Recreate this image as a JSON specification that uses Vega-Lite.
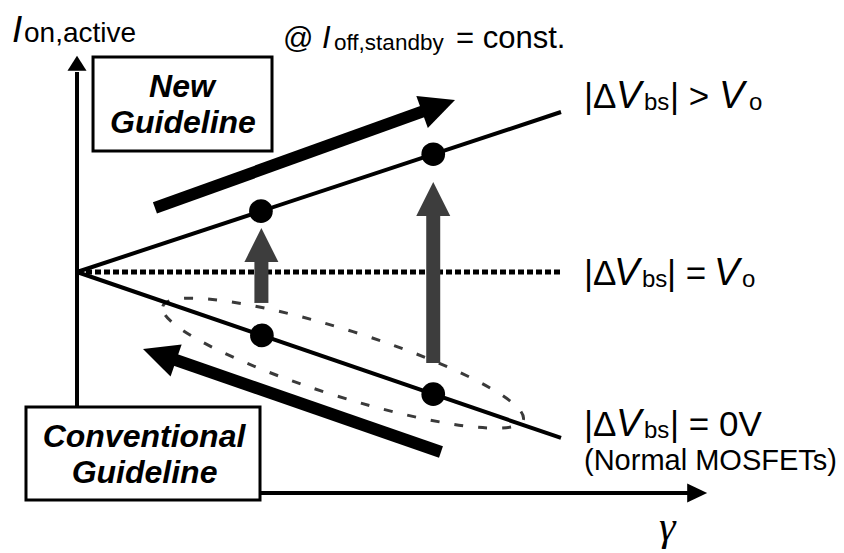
{
  "$schema": "https://vega.github.io/schema/vega-lite/v6.json",
  "width": 844,
  "height": 553,
  "autosize": {"type": "fit", "contains": "padding"},
  "padding": 0,
  "background": "white",
  "config": {"view": {"stroke": null}},
  "datasets": {
    "ellipse": [{"x": 5.496, "y": 5.873}],
    "dotted": [{"x": 0, "y": 10, "x2": 10, "y2": 10}],
    "mainlines": [
      {"name": "dVbs > Vo", "x": 0, "y": 10, "x2": 10, "y2": 17.24},
      {"name": "dVbs = 0V", "x": 0, "y": 10, "x2": 10, "y2": 2.49}
    ],
    "grayshafts": [
      {"x": 3.81, "y": 8.6, "x2": 3.81, "y2": 10.6},
      {"x": 7.36, "y": 5.88, "x2": 7.36, "y2": 12.7}
    ],
    "grayheads": [{"x": 3.81, "y": 11.99}, {"x": 7.36, "y": 14.07}],
    "dots": [
      {"x": 3.8, "y": 12.751},
      {"x": 7.36, "y": 15.329},
      {"x": 3.82, "y": 7.131},
      {"x": 7.36, "y": 4.473}
    ],
    "thickshafts": [
      {"name": "new", "x": 1.61, "y": 12.9, "x2": 7.29, "y2": 17.38},
      {"name": "conventional", "x": 7.52, "y": 1.855, "x2": 1.92, "y2": 6.11}
    ],
    "headNew": [{"x": 7.81, "y": 17.78}],
    "headConv": [{"x": 1.364, "y": 6.516}],
    "axes": [
      {"x": 0, "y": 0, "x2": 0, "y2": 19.05},
      {"x": 0, "y": 0, "x2": 12.665, "y2": 0}
    ],
    "headY": [{"x": 0, "y": 19.78}],
    "headX": [{"x": 13.02, "y": 0}],
    "boxes": [
      {"x": 0.331, "x2": 4.029, "y": 19.73, "y2": 15.48},
      {"x": -1.054, "x2": 3.781, "y": 3.891, "y2": -0.317}
    ],
    "boxtext": [
      {"x": 2.169, "y": 17.92, "t": "New"},
      {"x": 2.19, "y": 16.29, "t": "Guideline"},
      {"x": 1.384, "y": 2.081, "t": "Conventional"},
      {"x": 1.395, "y": 0.452, "t": "Guideline"}
    ],
    "labelMain": [
      {"x": 10.475, "y": 17.42, "t": "|Δ"},
      {"x": 12.252, "y": 17.42, "t": "| >"},
      {"x": 10.475, "y": 9.41, "t": "|Δ"},
      {"x": 12.19, "y": 9.41, "t": "| ="},
      {"x": 10.475, "y": 2.579, "t": "|Δ"},
      {"x": 12.252, "y": 2.579, "t": "| = 0V"}
    ],
    "labelItalic": [
      {"x": 11.136, "y": 17.42, "t": "V"},
      {"x": 13.264, "y": 17.42, "t": "V"},
      {"x": 11.095, "y": 9.41, "t": "V"},
      {"x": 13.161, "y": 9.41, "t": "V"},
      {"x": 11.136, "y": 2.579, "t": "V"}
    ],
    "labelSub": [
      {"x": 11.715, "y": 17.33, "t": "bs"},
      {"x": 13.884, "y": 17.33, "t": "o"},
      {"x": 11.674, "y": 9.32, "t": "bs"},
      {"x": 13.74, "y": 9.32, "t": "o"},
      {"x": 11.715, "y": 2.489, "t": "bs"}
    ],
    "normal": [{"x": 10.475, "y": 1.041, "t": "(Normal MOSFETs)"}],
    "yI": [{"x": -1.343, "y": 20.41, "t": "I"}],
    "ySub": [{"x": -1.095, "y": 20.41, "t": "on,active"}],
    "topAt": [{"x": 4.256, "y": 20.14, "t": "@"}],
    "topMain": [{"x": 7.831, "y": 20.14, "t": "= const."}],
    "topI": [{"x": 5.062, "y": 20.14, "t": "I"}],
    "topSub": [{"x": 5.31, "y": 20.05, "t": "off,standby"}],
    "gamma": [{"x": 12.025, "y": -2.127, "t": "γ"}]
  },
  "encoding": {
    "x": {"field": "x", "type": "quantitative", "scale": {"domain": [-1.591, 15.847], "nice": false, "zero": false}, "axis": null},
    "y": {"field": "y", "type": "quantitative", "scale": {"domain": [-2.715, 22.308], "nice": false, "zero": false}, "axis": null}
  },
  "layer": [
    {
      "data": {"name": "ellipse"},
      "mark": {"type": "point", "shape": "M-1,0A1,0.175,0,1,1,1,0A1,0.175,0,1,1,-1,0Z", "size": 142884, "angle": 17.5, "filled": false, "stroke": "#3a3a3a", "strokeWidth": 3, "strokeDash": [9, 15], "opacity": 1}
    },
    {
      "data": {"name": "dotted"},
      "mark": {"type": "rule", "color": "black", "strokeWidth": 5, "strokeDash": [6, 3]},
      "encoding": {"x2": {"field": "x2"}, "y2": {"field": "y2"}}
    },
    {
      "data": {"name": "mainlines"},
      "mark": {"type": "rule", "color": "black", "strokeWidth": 4},
      "encoding": {"x2": {"field": "x2"}, "y2": {"field": "y2"}}
    },
    {
      "data": {"name": "grayshafts"},
      "mark": {"type": "rule", "color": "#3d3d3d", "strokeWidth": 14, "strokeCap": "butt"},
      "encoding": {"x2": {"field": "x2"}, "y2": {"field": "y2"}}
    },
    {
      "data": {"name": "grayheads"},
      "mark": {"type": "point", "shape": "M0,0L-2,-1L-2,1Z", "size": 1156, "angle": 270, "filled": true, "color": "#3d3d3d", "opacity": 1}
    },
    {
      "data": {"name": "dots"},
      "mark": {"type": "point", "shape": "circle", "size": 560, "filled": true, "color": "black", "opacity": 1}
    },
    {
      "data": {"name": "thickshafts"},
      "mark": {"type": "rule", "color": "black", "strokeWidth": 12, "strokeCap": "butt"},
      "encoding": {"x2": {"field": "x2"}, "y2": {"field": "y2"}}
    },
    {
      "data": {"name": "headNew"},
      "mark": {"type": "point", "shape": "M0,0L-2,-0.97L-2,0.97Z", "size": 1225, "angle": 340.2, "filled": true, "color": "black", "opacity": 1}
    },
    {
      "data": {"name": "headConv"},
      "mark": {"type": "point", "shape": "M0,0L-2,-0.97L-2,0.97Z", "size": 1225, "angle": 199.1, "filled": true, "color": "black", "opacity": 1}
    },
    {
      "data": {"name": "axes"},
      "mark": {"type": "rule", "color": "black", "strokeWidth": 4},
      "encoding": {"x2": {"field": "x2"}, "y2": {"field": "y2"}}
    },
    {
      "data": {"name": "headY"},
      "mark": {"type": "point", "shape": "M0,0L-2,-1.27L-2,1.27Z", "size": 225, "angle": 270, "filled": true, "color": "black", "opacity": 1}
    },
    {
      "data": {"name": "headX"},
      "mark": {"type": "point", "shape": "M0,0L-2,-0.95L-2,0.95Z", "size": 400, "angle": 0, "filled": true, "color": "black", "opacity": 1}
    },
    {
      "data": {"name": "boxes"},
      "mark": {"type": "rect", "fill": "white", "stroke": "black", "strokeWidth": 3},
      "encoding": {"x2": {"field": "x2"}, "y2": {"field": "y2"}}
    },
    {
      "data": {"name": "boxtext"},
      "mark": {"type": "text", "font": "Liberation Sans", "fontSize": 32, "fontWeight": "bold", "fontStyle": "italic", "align": "center", "baseline": "alphabetic", "color": "black"},
      "encoding": {"text": {"field": "t"}}
    },
    {
      "data": {"name": "labelMain"},
      "mark": {"type": "text", "font": "Liberation Sans", "fontSize": 35, "align": "left", "baseline": "alphabetic", "color": "black"},
      "encoding": {"text": {"field": "t"}}
    },
    {
      "data": {"name": "labelItalic"},
      "mark": {"type": "text", "font": "Liberation Sans", "fontSize": 38, "fontStyle": "italic", "align": "left", "baseline": "alphabetic", "color": "black"},
      "encoding": {"text": {"field": "t"}}
    },
    {
      "data": {"name": "labelSub"},
      "mark": {"type": "text", "font": "Liberation Sans", "fontSize": 24, "align": "left", "baseline": "alphabetic", "color": "black"},
      "encoding": {"text": {"field": "t"}}
    },
    {
      "data": {"name": "normal"},
      "mark": {"type": "text", "font": "Liberation Sans", "fontSize": 29, "align": "left", "baseline": "alphabetic", "color": "black"},
      "encoding": {"text": {"field": "t"}}
    },
    {
      "data": {"name": "yI"},
      "mark": {"type": "text", "font": "Liberation Sans", "fontSize": 37, "fontStyle": "italic", "align": "left", "baseline": "alphabetic", "color": "black"},
      "encoding": {"text": {"field": "t"}}
    },
    {
      "data": {"name": "ySub"},
      "mark": {"type": "text", "font": "Liberation Sans", "fontSize": 28, "align": "left", "baseline": "alphabetic", "color": "black"},
      "encoding": {"text": {"field": "t"}}
    },
    {
      "data": {"name": "topAt"},
      "mark": {"type": "text", "font": "Liberation Sans", "fontSize": 30, "align": "left", "baseline": "alphabetic", "color": "black"},
      "encoding": {"text": {"field": "t"}}
    },
    {
      "data": {"name": "topMain"},
      "mark": {"type": "text", "font": "Liberation Sans", "fontSize": 31, "align": "left", "baseline": "alphabetic", "color": "black"},
      "encoding": {"text": {"field": "t"}}
    },
    {
      "data": {"name": "topI"},
      "mark": {"type": "text", "font": "Liberation Sans", "fontSize": 31, "fontStyle": "italic", "align": "left", "baseline": "alphabetic", "color": "black"},
      "encoding": {"text": {"field": "t"}}
    },
    {
      "data": {"name": "topSub"},
      "mark": {"type": "text", "font": "Liberation Sans", "fontSize": 22.5, "align": "left", "baseline": "alphabetic", "color": "black"},
      "encoding": {"text": {"field": "t"}}
    },
    {
      "data": {"name": "gamma"},
      "mark": {"type": "text", "font": "Liberation Serif", "fontSize": 42, "fontStyle": "italic", "align": "left", "baseline": "alphabetic", "color": "black"},
      "encoding": {"text": {"field": "t"}}
    }
  ]
}
